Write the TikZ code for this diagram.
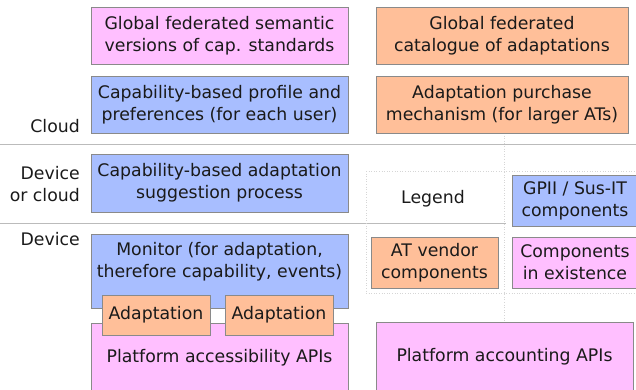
\documentclass[tikz,border=0pt]{standalone}
\usepackage{fontspec}
\setmainfont{DejaVu Sans}
\definecolor{pinkc}{HTML}{FFBFFF}
\definecolor{orangec}{HTML}{FFBF99}
\definecolor{bluec}{HTML}{A8BEFF}
\definecolor{edgec}{HTML}{8A8A8A}
\definecolor{linec}{HTML}{BBBBBB}
\definecolor{txtc}{HTML}{1A1A1A}
\newcommand{\dfont}{\fontsize{17.3}{22}\selectfont}
\begin{document}
\begin{tikzpicture}[x=1pt,y=-1pt,
  box/.style={draw=edgec, line width=0.8pt, minimum width=#1, inner sep=0pt, align=center, text=txtc, font=\dfont},
  pinkbox/.style={box=#1, fill=pinkc},
  orangebox/.style={box=#1, fill=orangec},
  bluebox/.style={box=#1, fill=bluec},
  lbl/.style={text=txtc, font=\dfont, align=right, anchor=east, inner sep=0pt},
  sep/.style={draw=linec, line width=0.8pt},
  dots/.style={draw=linec!60, line width=0.6pt, dotted}]
\useasboundingbox (0,0) rectangle (636,390);
% separators
\coordinate (s1a) at (0,144.5); \coordinate (s1b) at (636,144.5);
\coordinate (s2a) at (0,223.5); \coordinate (s2b) at (506,223.5);
\draw[sep] (s1a) -- (s1b);
\draw[sep] (s2a) -- (s2b);
% legend dotted frame
\coordinate (d1) at (504,133); \coordinate (d2) at (504,322);
\coordinate (d3) at (366,171); \coordinate (d4) at (636,171);
\coordinate (d5) at (366,293); \coordinate (d6) at (636,293);
\draw[dots] (d1) -- (d2);
\draw[dots] (d3) -- (d4);
\draw[dots] (d3) -- (d5);
\draw[dots] (d5) -- (d6);
% row labels
\node[lbl] (cloud) at (80,126) {Cloud};
\node[lbl] (devcloud) at (80,184) {Device\\or cloud};
\node[lbl] (device) at (80,239) {Device};
% cloud row
\node[pinkbox=257pt, minimum height=57pt] (sem) at (219.5,35.5) {Global federated semantic\\versions of cap. standards};
\node[orangebox=252pt, minimum height=57pt] (cat) at (502,35.5) {Global federated\\catalogue of adaptations};
\node[bluebox=257pt, minimum height=57pt] (prof) at (219.5,104.5) {Capability-based profile and\\preferences (for each user)};
\node[orangebox=252pt, minimum height=57pt] (purch) at (502,104.5) {Adaptation purchase\\mechanism (for larger ATs)};
% device or cloud
\node[bluebox=257pt, minimum height=58pt] (sugg) at (219.5,183) {Capability-based adaptation\\suggestion process};
% device
\node[bluebox=257pt, minimum height=74pt] (mon) at (219.5,271) {};
\node[text=txtc, font=\dfont, align=center, inner sep=0pt] (montxt) at (219.5,261.5) {Monitor (for adaptation,\\therefore capability, events)};
\node[pinkbox=257pt, minimum height=70pt] (acc) at (219.5,358) {Platform accessibility APIs};
\node[orangebox=108pt, minimum height=40pt] (ad1) at (156,315) {Adaptation};
\node[orangebox=108pt, minimum height=40pt] (ad2) at (279,315) {Adaptation};
\node[pinkbox=257pt, minimum height=70pt] (acct) at (504.5,357) {Platform accounting APIs};
% legend
\node[text=txtc, font=\dfont, inner sep=0pt] (leg) at (433,199) {Legend};
\node[bluebox=126pt, minimum height=51pt] (lblue) at (575,200.5) {GPII / Sus-IT\\components};
\node[orangebox=127pt, minimum height=51pt] (lorange) at (434.5,262.5) {AT vendor\\components};
\node[pinkbox=126pt, minimum height=51pt] (lpink) at (575,262.5) {Components\\in existence};
\end{tikzpicture}
\end{document}
